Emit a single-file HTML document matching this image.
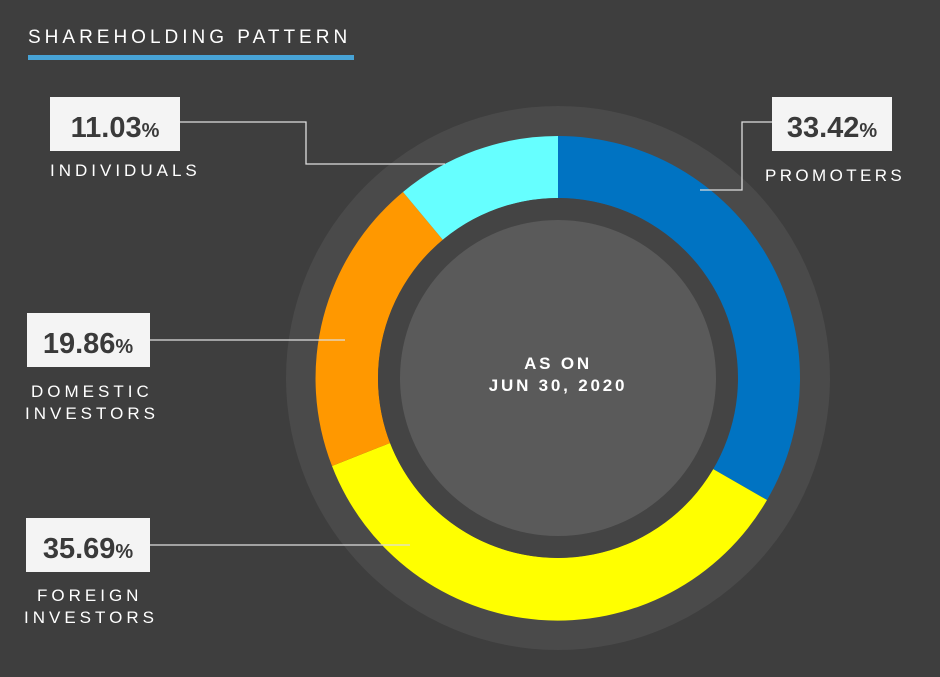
<!DOCTYPE html>
<html><head><style>
body{margin:0;width:940px;height:677px;background:#3e3e3e;overflow:hidden;font-family:"Liberation Sans",sans-serif;}
</style></head><body>
<svg width="940" height="677" xmlns="http://www.w3.org/2000/svg" style="position:absolute;left:0;top:0">
<rect width="940" height="677" fill="#3e3e3e"/>
<text x="28" y="43" fill="#fff" font-size="19" letter-spacing="4" font-family="Liberation Sans">SHAREHOLDING PATTERN</text>
<rect x="28" y="55" width="326" height="5" fill="#47a3d6"/>
<circle cx="558" cy="378" r="272" fill="#4a4a4a"/>
<path d="M558,136 A242,242 0 0 1 767,500 L713,469 A180,180 0 0 0 558,198 Z" fill="#0073c2"/>
<path d="M767,500 A242,242 0 0 1 332,466 L390,443 A180,180 0 0 0 713,469 Z" fill="#ffff00"/>
<path d="M332,466 A242,242 0 0 1 403,192 L443,240 A180,180 0 0 0 390,443 Z" fill="#ff9800"/>
<path d="M403,192 A242,242 0 0 1 558,136 L558,198 A180,180 0 0 0 443,240 Z" fill="#66ffff"/>
<circle cx="558" cy="378" r="180" fill="#444"/>
<circle cx="558" cy="378" r="158" fill="#5a5a5a"/>
<text x="558" y="369" fill="#fff" font-size="17" font-weight="bold" letter-spacing="2.8" text-anchor="middle">AS ON</text>
<text x="558" y="391" fill="#fff" font-size="17" font-weight="bold" letter-spacing="2.8" text-anchor="middle">JUN 30, 2020</text>
<g stroke="#ddd" stroke-width="1.3" fill="none">
<polyline points="180,122 306,122 306,164 445,164"/>
<polyline points="772,122 742,122 742,190 700,190"/>
<polyline points="150,340 345,340"/>
<polyline points="150,545 410,545"/>
</g>
<g fill="#f4f4f4">
<rect x="50" y="97" width="130" height="54"/>
<rect x="772" y="97" width="120" height="54"/>
<rect x="27" y="313" width="123" height="54"/>
<rect x="26" y="518" width="124" height="54"/>
</g>
<g fill="#3a3a3a" font-weight="bold" font-size="29" text-anchor="middle">
<text x="115" y="137">11.03<tspan font-size="20">%</tspan></text>
<text x="832" y="137">33.42<tspan font-size="20">%</tspan></text>
<text x="88" y="353">19.86<tspan font-size="20">%</tspan></text>
<text x="88" y="558">35.69<tspan font-size="20">%</tspan></text>
</g>
<g fill="#fff" font-size="17" letter-spacing="4">
<text x="50" y="176">INDIVIDUALS</text>
<text x="765" y="181" letter-spacing="3.4">PROMOTERS</text>
<text x="31" y="397">DOMESTIC</text>
<text x="25" y="419">INVESTORS</text>
<text x="37" y="601">FOREIGN</text>
<text x="24" y="623">INVESTORS</text>
</g>
</svg>
</body></html>
